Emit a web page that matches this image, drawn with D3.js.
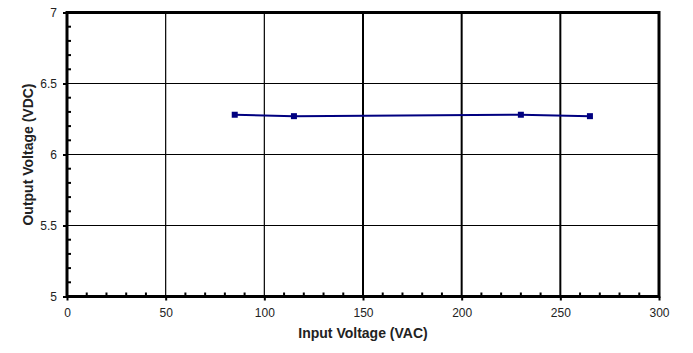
<!DOCTYPE html>
<html>
<head>
<meta charset="utf-8">
<script src="https://cdn.jsdelivr.net/npm/d3@7"></script>
<style>
  body { margin: 0; background: #fff; }
  text { font-family: Arial, "Liberation Sans", sans-serif; fill: #222; }
</style>
</head>
<body>
<svg id="chart" width="693" height="353"></svg>
<script>
// data
const inputVoltage = [85, 115, 230, 265];
const outputVoltage = [6.28, 6.27, 6.28, 6.27];
const xTicks = [0, 50, 100, 150, 200, 250, 300];
const yTicks = [5, 5.5, 6, 6.5, 7];

const plotLeft = 67, plotRight = 659, plotTop = 12.5, plotBottom = 296.5;

const svg = d3.select('#chart');

const x = d3.scaleLinear().domain([0, 300]).range([plotLeft, plotRight]);
const y = d3.scaleLinear().domain([5, 7]).range([plotBottom, plotTop]);

// gridlines
svg.append('g')
    .selectAll('line')
    .data(xTicks.slice(1, -1))
    .enter()
    .append('line')
    .attr('x1', d => x(d)).attr('x2', d => x(d))
    .attr('y1', plotTop).attr('y2', plotBottom)
    .attr('stroke', '#000')
    .attr('stroke-width', d => d >= 150 ? 2 : 1.2);

svg.append('g')
    .selectAll('line')
    .data(yTicks.slice(1, -1))
    .enter()
    .append('line')
    .attr('x1', plotLeft).attr('x2', plotRight)
    .attr('y1', d => y(d)).attr('y2', d => y(d))
    .attr('stroke', '#000')
    .attr('stroke-width', 1.2);

// minor ticks (inward)
const xMinor = d3.range(10, 300, 10).filter(d => d % 50 !== 0);
svg.append('g')
    .selectAll('line')
    .data(xMinor)
    .enter()
    .append('line')
    .attr('x1', d => x(d)).attr('x2', d => x(d))
    .attr('y1', plotBottom).attr('y2', plotBottom - 4)
    .attr('stroke', '#000')
    .attr('stroke-width', 2);

const yMinor = d3.range(51, 70).map(d => d / 10).filter(d => Math.round(d * 10) % 5 !== 0);
svg.append('g')
    .selectAll('line')
    .data(yMinor)
    .enter()
    .append('line')
    .attr('x1', plotLeft).attr('x2', plotLeft + 4)
    .attr('y1', d => y(d)).attr('y2', d => y(d))
    .attr('stroke', '#000')
    .attr('stroke-width', 2);

// axes
const xAxis = d3.axisBottom(x).tickValues(xTicks).tickSize(4).tickPadding(8);
const gx = svg.append('g')
    .attr('transform', 'translate(0,' + plotBottom + ')')
    .call(xAxis);
gx.select('.domain').remove();
gx.selectAll('.tick line').attr('stroke-width', 2);
gx.selectAll('text').attr('font-size', 12).attr('fill', '#333');

const yAxis = d3.axisLeft(y).tickValues(yTicks).tickFormat(d3.format('~g')).tickSize(4).tickPadding(6);
const gy = svg.append('g')
    .attr('transform', 'translate(' + plotLeft + ',0)')
    .call(yAxis);
gy.select('.domain').remove();
gy.selectAll('.tick line').attr('stroke-width', 2);
gy.selectAll('text').attr('font-size', 12).attr('fill', '#333');

// frame
svg.append('rect')
    .attr('x', plotLeft).attr('y', plotTop)
    .attr('width', plotRight - plotLeft).attr('height', plotBottom - plotTop)
    .attr('fill', 'none')
    .attr('stroke', '#000')
    .attr('stroke-width', 3);

// series
const pts = inputVoltage.map((v, i) => [v, outputVoltage[i]]);
const line = d3.line().x(d => x(d[0])).y(d => y(d[1]));

svg.append('path')
    .datum(pts)
    .attr('d', line)
    .attr('fill', 'none')
    .attr('stroke', '#000080')
    .attr('stroke-width', 2);

svg.append('g')
    .selectAll('rect')
    .data(pts)
    .enter()
    .append('rect')
    .attr('x', d => x(d[0]) - 3)
    .attr('y', d => y(d[1]) - 3)
    .attr('width', 6)
    .attr('height', 6)
    .attr('fill', '#000080');

// titles
svg.append('text')
    .attr('x', (plotLeft + plotRight) / 2)
    .attr('y', 338)
    .attr('text-anchor', 'middle')
    .attr('font-size', 14)
    .attr('font-weight', 'bold')
    .attr('fill', '#111')
    .text('Input Voltage (VAC)');

svg.append('text')
    .attr('transform', 'translate(33,' + ((plotTop + plotBottom) / 2) + ') rotate(-90)')
    .attr('text-anchor', 'middle')
    .attr('font-size', 14)
    .attr('font-weight', 'bold')
    .attr('fill', '#111')
    .text('Output Voltage (VDC)');
</script>
</body>
</html>
